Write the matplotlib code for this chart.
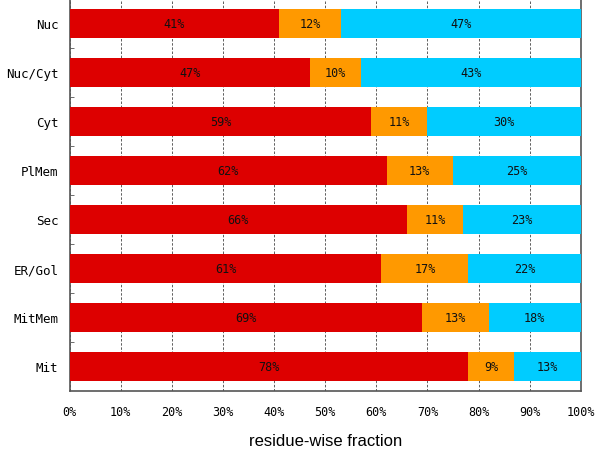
import matplotlib
matplotlib.use('Agg')
import matplotlib.pyplot as plt
import numpy as np

# datos
categorias = ['Nuc', 'Nuc/Cyt', 'Cyt', 'PlMem', 'Sec', 'ER/Gol', 'MitMem', 'Mit']
rojo = [41, 47, 59, 62, 66, 61, 69, 78]
naranja = [12, 10, 11, 13, 11, 17, 13, 9]
celeste = [47, 43, 30, 25, 23, 22, 18, 13]
xticks = [0, 10, 20, 30, 40, 50, 60, 70, 80, 90, 100]

colores = ['#dd0000', '#ff9900', '#00ccff']
fuente = 'DejaVu Sans Mono'

fig = plt.figure(figsize=(6, 4.6), dpi=100)
ax = fig.add_axes([0.116, 0.148, 0.852, 0.852])

y = np.arange(len(categorias))
izq = np.zeros(len(categorias))
for serie, color in zip([rojo, naranja, celeste], colores):
    vals = np.array(serie, dtype=float)
    ax.barh(y, vals, left=izq, height=0.6, color=color, zorder=3)
    for yi, l, v in zip(y, izq, vals):
        ax.text(l + v / 2, yi, f'{int(v)}%', ha='center', va='center',
                fontsize=8.5, family=fuente, color='#111111', zorder=4)
    izq = izq + vals

ax.set_xlim(0, 100)
ax.set_ylim(7.5, -0.5)
ax.set_xticks(xticks)
ax.set_xticklabels([f'{t}%' for t in xticks], family=fuente, fontsize=8.5)
ax.set_yticks(y)
ax.set_yticklabels(categorias, family=fuente, fontsize=9)
ax.set_yticks(np.arange(len(categorias) - 1) + 0.5, minor=True)
ax.tick_params(axis='y', which='major', length=0, pad=8)
ax.tick_params(axis='y', which='minor', length=3, direction='in', color='#555555')
ax.tick_params(axis='x', which='major', length=0, pad=10)
ax.grid(axis='x', linestyle=(0, (3, 2)), color='#444444', linewidth=0.6, zorder=1)
for s in ax.spines.values():
    s.set_color('#555555')
    s.set_linewidth(1.2)

ax.set_xlabel('residue-wise fraction', family='Liberation Sans', fontsize=12, labelpad=11)

plt.savefig('out.png', dpi=100)
